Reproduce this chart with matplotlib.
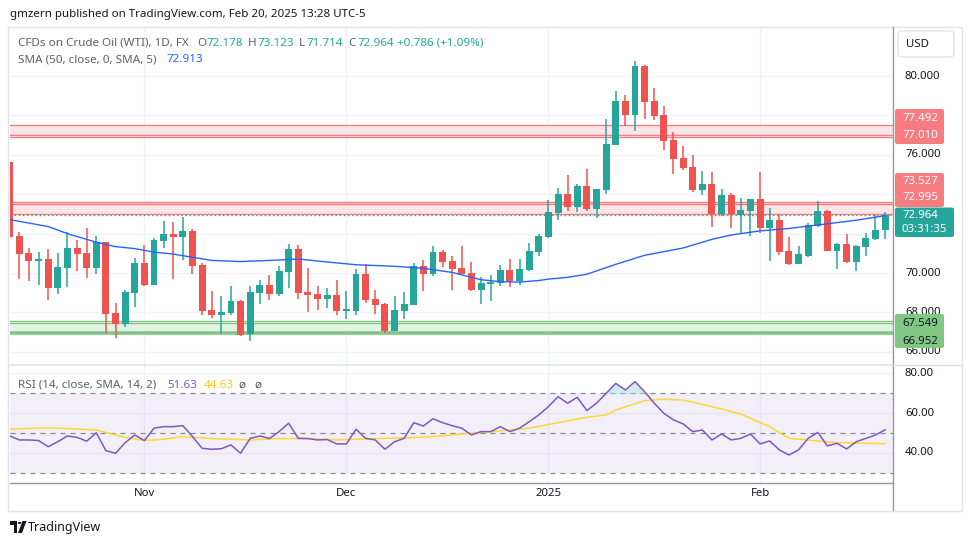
import matplotlib
matplotlib.use("Agg")
import matplotlib.pyplot as plt
from matplotlib.patches import Rectangle, FancyBboxPatch, Polygon, Circle
from matplotlib.transforms import blended_transform_factory as blend

plt.rcParams['font.family'] = ['Noto Sans', 'DejaVu Sans']

# ---------------- data ----------------
opens = [75.63, 71.88, 71.02, 70.62, 70.71, 69.25, 70.27, 71.27, 71.02, 70.27,
         71.56, 67.97, 67.43, 69.00, 70.51, 69.41, 71.64, 71.98, 71.84, 72.13,
         70.41, 68.12, 67.88, 67.98, 68.58, 66.92, 69.00, 69.39, 68.95, 70.07,
         71.22, 69.04, 68.93, 68.69, 68.88, 68.09, 68.09, 69.95, 68.68, 68.43,
         67.07, 68.09, 68.39, 70.36, 69.96, 71.07, 70.61, 70.25, 70.00, 69.15,
         69.46, 69.51, 70.15, 69.61, 70.17, 71.08, 71.83, 73.06, 74.01, 73.37,
         74.42, 73.26, 74.23, 76.51, 78.73, 78.02, 80.51, 78.73, 78.02, 76.75,
         75.84, 75.38, 74.21, 74.52, 73.00, 73.96, 72.96, 73.16, 73.76, 72.30,
         72.71, 71.13, 70.47, 70.88, 72.40, 73.15, 71.13, 71.47, 70.57, 71.33,
         71.74, 72.178]
highs = [75.63, 72.08, 71.27, 71.07, 71.22, 71.02, 72.08, 71.68, 72.28, 71.88,
         71.60, 68.48, 69.14, 70.76, 71.42, 71.76, 72.64, 72.59, 72.84, 72.23,
         70.51, 69.09, 68.83, 69.34, 68.63, 69.34, 69.64, 69.90, 70.36, 71.47,
         71.42, 70.25, 69.34, 69.24, 69.64, 69.09, 70.20, 70.46, 69.14, 68.48,
         68.83, 69.04, 70.51, 70.66, 71.37, 71.17, 70.86, 71.37, 70.56, 69.80,
         69.90, 70.41, 70.71, 70.71, 71.52, 71.98, 73.71, 74.31, 74.97, 74.52,
         75.28, 74.26, 77.82, 79.24, 79.04, 80.76, 80.56, 79.39, 78.48, 77.16,
         76.45, 75.99, 75.18, 75.13, 74.26, 74.06, 73.81, 73.76, 75.13, 73.31,
         72.96, 71.83, 71.39, 72.55, 73.65, 73.20, 71.52, 72.00, 71.42, 72.03,
         72.96, 73.123]
lows = [71.84, 69.71, 69.61, 69.41, 68.64, 68.95, 69.30, 70.12, 69.76, 69.96,
        66.92, 66.72, 67.27, 68.29, 69.36, 69.41, 71.28, 69.71, 70.67, 69.96,
        67.88, 67.73, 66.92, 67.88, 66.82, 66.56, 68.44, 68.64, 68.85, 69.25,
        68.69, 68.04, 68.14, 68.24, 67.88, 67.68, 67.88, 68.49, 67.93, 66.97,
        67.07, 67.68, 68.39, 69.10, 69.86, 70.32, 69.15, 69.96, 69.10, 68.44,
        68.59, 69.36, 69.30, 69.41, 70.12, 70.88, 71.79, 72.71, 73.16, 73.11,
        73.16, 72.81, 74.03, 76.51, 77.46, 77.21, 77.82, 77.77, 76.24, 75.03,
        75.23, 74.11, 73.96, 72.34, 72.89, 72.30, 72.00, 71.89, 72.05, 70.62,
        70.93, 70.42, 70.47, 70.83, 72.35, 71.13, 70.22, 70.52, 70.12, 70.88,
        71.69, 71.714]
closes = [71.84, 70.98, 70.61, 70.71, 69.25, 70.30, 71.27, 70.98, 70.27, 71.59,
          67.93, 67.43, 69.04, 70.51, 69.41, 71.68, 71.98, 71.84, 72.13, 70.37,
          68.09, 67.88, 68.02, 68.58, 66.87, 69.04, 69.39, 68.95, 70.10, 71.22,
          69.00, 68.90, 68.69, 68.88, 68.09, 68.14, 69.95, 68.64, 68.39, 67.07,
          68.12, 68.43, 70.36, 69.96, 71.07, 70.57, 70.22, 69.96, 69.15, 69.49,
          69.54, 70.15, 69.61, 70.20, 71.12, 71.88, 73.10, 74.01, 73.37, 74.42,
          73.26, 74.26, 76.55, 78.73, 78.02, 80.51, 78.68, 77.97, 76.70, 75.79,
          75.33, 74.21, 74.52, 73.00, 73.96, 73.01, 73.20, 73.76, 72.30, 72.71,
          71.08, 70.47, 70.96, 72.45, 73.15, 71.13, 71.47, 70.57, 71.37, 71.78,
          72.18, 72.964]

sma_idx = [0, 4, 6, 8, 9, 11, 13, 15, 17, 19, 21, 24, 28, 30, 33, 36, 40, 43, 46,
           48, 49, 51, 53, 55, 56, 58, 60, 63, 66, 70, 73, 75, 78, 81, 85, 88, 91]
sma_val = [72.71, 72.36, 72.00, 71.71, 71.56, 71.34, 71.24, 71.06, 70.96, 70.80,
           70.64, 70.58, 70.66, 70.71, 70.56, 70.42, 70.34, 70.24, 70.03, 69.78,
           69.66, 69.56, 69.54, 69.62, 69.69, 69.78, 69.94, 70.44, 70.90, 71.27,
           71.71, 71.93, 72.14, 72.26, 72.50, 72.68, 72.913]

rsi = [48.5, 46.5, 46.5, 46.2, 43.1, 45.6, 48.5, 47.8, 45.9, 50.1,
       41.1, 39.8, 45.1, 49.0, 46.2, 52.4, 53.2, 53.2, 53.7, 48.2,
       42.3, 41.8, 42.1, 44.0, 39.8, 47.3, 48.5, 47.2, 50.7, 54.9,
       47.3, 47.2, 46.5, 46.7, 44.5, 44.5, 51.9, 47.3, 46.5, 41.8,
       45.6, 47.3, 55.2, 53.5, 57.2, 55.2, 53.7, 52.4, 49.0, 50.7,
       50.7, 53.2, 50.7, 52.4, 55.7, 59.1, 63.3, 68.3, 65.0, 68.0,
       61.3, 65.0, 70.0, 75.0, 71.7, 75.9, 70.8, 65.0, 59.9, 56.6,
       54.6, 50.7, 51.5, 46.5, 49.5, 46.5, 47.3, 49.5, 44.5, 46.0,
       41.5, 38.9, 41.5, 47.3, 50.3, 43.5, 44.8, 42.0, 45.6, 47.3,
       49.0, 51.63]
rsi_ma_idx = [0, 3, 5, 9, 12, 14, 16, 18, 21, 25, 28, 31, 34, 38, 41, 44, 47,
              50, 54, 57, 60, 62, 63, 66, 68, 70, 73, 76, 79, 81, 84, 86, 89, 91]
rsi_ma_val = [51.9, 52.5, 52.5, 51.5, 47.8, 46.2, 46.8, 48.2, 47.2, 46.5, 47.2,
              47.2, 46.5, 47.2, 47.5, 48.2, 49.5, 50.7, 52.4, 55.2, 57.9, 59.1,
              61.6, 66.3, 67.0, 66.6, 63.3, 59.6, 53.2, 47.3, 46.0, 45.1, 44.8, 44.63]

month_idx = [14, 35, 56, 78]
month_lbl = ["Nov", "Dec", "2025", "Feb"]

res_upper = (77.010, 77.492)
res_lower = (72.995, 73.527)
support = (66.952, 67.549)
last_price = 72.964
sma_last = 72.913
price_ticks = [66, 68, 70, 76, 80]
price_grid = [66, 68, 70, 72, 74, 76, 78, 80]

# ---------------- figure ----------------
W, H = 970, 545
fig = plt.figure(figsize=(W / 100, H / 100), dpi=100)
fig.patch.set_facecolor('white')

def fx(x):
    return x / W

def fy(y):
    return 1 - y / H

GREEN = '#26a69a'
RED = '#ef5350'
TXT = '#131722'
GRAY = '#5d606b'
GRID = '#f0f3fa'

L, R = 10, 893
ax = fig.add_axes([fx(L), fy(365), (R - L) / W, (365 - 27) / H])
axr = fig.add_axes([fx(L), fy(483), (R - L) / W, (483 - 365) / H])
for a in (ax, axr):
    a.set_xlim(0.03, 91.82)
    a.set_xticks([])
    a.set_yticks([])
    for s in a.spines.values():
        s.set_visible(False)
ax.set_ylim(65.33, 82.49)
axr.set_ylim(24.81, 84.26)

# grids
for g in price_grid:
    ax.axhline(g, color=GRID, lw=1, zorder=0)
for m in month_idx:
    ax.axvline(m, color=GRID, lw=1, zorder=0)
    axr.axvline(m, color=GRID, lw=1, zorder=0)
for g in (40, 60, 80):
    axr.axhline(g, color=GRID, lw=1, zorder=0)

# zones
RZ = '#f77c80'
ax.axhspan(res_upper[0], res_upper[1], color='#fde6e7', zorder=1, lw=0)
for v in (res_upper[1], res_upper[0], res_upper[0] - 0.08):
    ax.axhline(v, color=RZ, lw=1.0, zorder=1.5)
ax.axhspan(res_lower[0], res_lower[1] + 0.06, color='#fde6e7', zorder=1, lw=0)
for v in (res_lower[1] + 0.07, res_lower[1], res_lower[0]):
    ax.axhline(v, color=RZ, lw=1.0, zorder=1.5)
GZ = '#81c784'
ax.axhspan(support[0], support[1] - 0.08, color='#e5f3e6', zorder=1, lw=0)
ax.axhline(support[1], color=GZ, lw=1.0, zorder=1.5)
ax.axhline(support[1] - 0.08, color=GZ, lw=1.0, zorder=1.5)
ax.axhline(support[0], color=GZ, lw=2.6, zorder=1.5)

# candles
n = len(closes)
xs = list(range(n))
cols = [GREEN if c >= o else RED for o, c in zip(opens, closes)]
ax.vlines(xs, lows, highs, colors=cols, lw=1.1, zorder=3)
bottoms = [min(o, c) for o, c in zip(opens, closes)]
heights = [max(abs(c - o), 0.06) for o, c in zip(opens, closes)]
ax.bar(xs, heights, bottom=bottoms, width=0.72, color=cols, lw=0, zorder=4)

# SMA
ax.plot(sma_idx, sma_val, color='#2962ff', lw=1.0, zorder=5)

# last price dotted
ax.axhline(last_price, color=GREEN, lw=1, ls=(0, (1, 2)), zorder=2)

# RSI pane
axr.axhspan(30, 70, color='#7e57c2', alpha=0.09, lw=0, zorder=0.5)
for v in (30, 50, 70):
    axr.axhline(v, color='#868993', lw=0.9, ls=(0, (4, 4)), zorder=1)
axr.fill_between(xs, 70, rsi, where=[r > 70 for r in rsi], interpolate=True,
                 color='#b2dfdb', alpha=0.6, lw=0, zorder=1.2)
axr.plot(rsi_ma_idx, rsi_ma_val, color='#fdd835', lw=1.1, zorder=2)
axr.plot(xs, rsi, color='#7e57c2', lw=1.1, zorder=3)

# frames / separators
fig.add_artist(Rectangle((fx(8), fy(511)), (962 - 8) / W, (511 - 27) / H,
                         transform=fig.transFigure, fill=False, ec='#e0e3eb', lw=1))
fig.add_artist(plt.Line2D([fx(L), fx(R)], [fy(365), fy(365)], color='#e0e3eb', lw=1.2))
fig.add_artist(plt.Line2D([fx(L), fx(R)], [fy(483), fy(483)], color='#9598a1', lw=1))
fig.add_artist(plt.Line2D([fx(R), fx(R)], [fy(27), fy(510)], color='#9598a1', lw=1))
fig.add_artist(plt.Line2D([fx(R), fx(962)], [fy(365), fy(365)], color='#e0e3eb', lw=1))

# price axis labels
tr = blend(ax.transAxes, ax.transData)
xoff = 1 + 12 / (R - L)
for t in price_ticks:
    ax.text(xoff, t, f"{t:.3f}", transform=tr, fontsize=8.2, color=TXT,
            va='center', ha='left', clip_on=False)
trr = blend(axr.transAxes, axr.transData)
for t in (40, 60, 80):
    axr.text(xoff, t, f"{t:.2f}", transform=trr, fontsize=8.2, color=TXT,
             va='center', ha='left', clip_on=False)

# label boxes on the price scale
def box(y0, y1, color, x1=944):
    fig.add_artist(FancyBboxPatch((fx(895), fy(y1)), (x1 - 895) / W, (y1 - y0) / H,
                                  boxstyle="round,pad=0,rounding_size=0.003",
                                  transform=fig.transFigure, fc=color, ec='none'))

def btxt(y, s, color, bold=True):
    fig.text(fx(902), fy(y), s, fontsize=8.2, color=color, va='center', ha='left',
             fontweight='bold' if bold else 'normal')

box(109, 144, RZ)
btxt(118.5, f"{res_upper[1]:.3f}", 'white')
btxt(135.5, f"{res_upper[0]:.3f}", 'white')
box(173, 207, RZ)
btxt(181.5, f"{res_lower[1]:.3f}", 'white')
btxt(198, f"{res_lower[0]:.3f}", 'white')
box(207.5, 237, GREEN, x1=954)
btxt(215.5, f"{last_price:.3f}", 'white')
btxt(229.5, "03:31:35", 'white', bold=False)
box(314, 348, GZ)
btxt(323, f"{support[1]:.3f}", '#131722')
btxt(341, f"{support[0]:.3f}", '#131722')

# USD button
fig.add_artist(FancyBboxPatch((fx(898), fy(57)), (954 - 898) / W, (57 - 31) / H,
                              boxstyle="round,pad=0,rounding_size=0.006",
                              transform=fig.transFigure, fc='white', ec='#e0e3eb', lw=1))
fig.text(fx(906), fy(44.5), "USD", fontsize=8.2, color=TXT, va='center', ha='left')

# x labels
trx = blend(axr.transData, axr.transAxes)
ylab = -(494 - 483) / (483 - 365)
for m, lb in zip(month_idx, month_lbl):
    axr.text(m, ylab, lb, transform=trx, fontsize=8.2, color=TXT, ha='center',
             va='center', clip_on=False, fontweight='bold' if lb == '2025' else 'normal')

# header texts
fig.text(fx(10), fy(15), "gmzern published on TradingView.com, Feb 20, 2025 13:28 UTC-5",
         fontsize=8.3, color=TXT, va='center', ha='left')

def seg(x, y, s, c):
    fig.text(fx(x), fy(y), s, fontsize=8.4, color=c, va='center', ha='left')

yl = 43
seg(18, yl, "CFDs on Crude Oil (WTI), 1D, FX", GRAY)
seg(197, yl, "O", GRAY)
seg(206, yl, f"{opens[-1]:.3f}", GREEN)
seg(248, yl, "H", GRAY)
seg(257, yl, f"{highs[-1]:.3f}", GREEN)
seg(299, yl, "L", GRAY)
seg(306, yl, f"{lows[-1]:.3f}", GREEN)
seg(348, yl, "C", GRAY)
seg(357, yl, f"{closes[-1]:.3f}", GREEN)
seg(397, yl, "+0.786 (+1.09%)", GREEN)
seg(18, 60, "SMA (50, close, 0, SMA, 5)", GRAY)
seg(166, 60, f"{sma_last:.3f}", '#2962ff')

yr = 385
seg(18, yr, "RSI (14, close, SMA, 14, 2)", GRAY)
seg(167, yr, f"{rsi[-1]:.2f}", '#7e57c2')
seg(204, yr, f"{rsi_ma_val[-1]:.2f}", '#f9c815')
seg(238, yr, "ø", GRAY)
seg(254, yr, "ø", GRAY)

# TradingView logo
fig.add_artist(Polygon([(fx(10), fy(521)), (fx(17), fy(521)), (fx(17), fy(533)),
                        (fx(13.5), fy(533)), (fx(13.5), fy(524.5)), (fx(10), fy(524.5))],
                       closed=True, transform=fig.transFigure, fc=TXT, ec='none'))
fig.add_artist(Circle((fx(19.5), fy(523)), 1.8 / W, transform=fig.transFigure, fc=TXT, ec='none'))
fig.add_artist(Polygon([(fx(22.5), fy(521)), (fx(26.5), fy(521)), (fx(22), fy(533)),
                        (fx(18), fy(533))], closed=True, transform=fig.transFigure,
                       fc=TXT, ec='none'))
fig.text(fx(28), fy(527), "TradingView", fontsize=9, color=TXT, va='center', ha='left')

fig.savefig("out.png", dpi=100, facecolor='white')
